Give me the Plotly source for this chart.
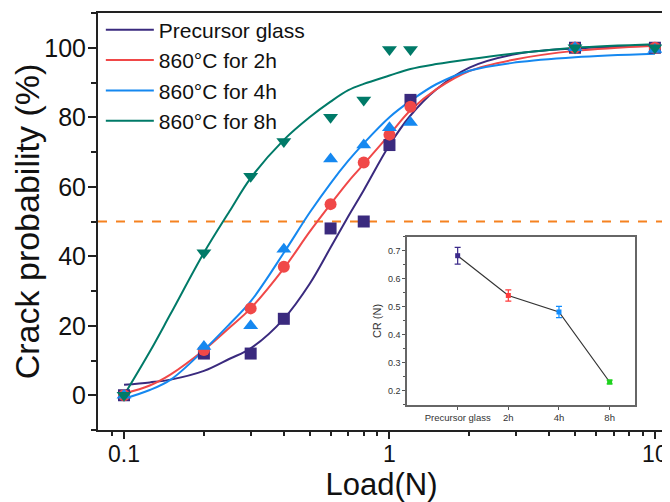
import plotly.graph_objects as go

# ---------------- data ----------------
loads = [0.1, 0.2, 0.3, 0.4, 0.6, 0.8, 1.0, 1.2, 5, 10]
precursor = [0, 12, 12, 22, 48, 50, 72, 85, 100, 100]
h2 = [0, 13, 25, 37, 55, 67, 75, 83, 100, 100]
h4 = [0, 14, 20, 42, 68, 72, 77, 78.5, 100, 99.5]
h8 = [0, 41, 63, 73, 80, 85, 99.5, 99.5, 100, 100]

# fitted curves
fit_x = [0.1, 0.125, 0.15, 0.2, 0.25, 0.3, 0.4, 0.5, 0.6, 0.7, 0.8, 1.0, 1.2, 1.5, 2, 3, 5, 10]
precursor_fit = [3, 3.7, 4.5, 7, 10.5, 13.5, 22, 32, 42.5, 51.5, 59, 72, 80.5, 88, 94.3, 98.2, 99.8, 100.6]
h2_fit = [0.5, 2.8, 6, 13, 19.5, 25, 36.5, 47, 55, 61.5, 66.5, 75, 82, 88, 93.3, 96.7, 99.1, 100.6]
h4_fit = [-1, 1.5, 4.5, 13, 20.5, 27, 41, 52.5, 61, 67.5, 72.5, 80, 84.7, 89.5, 93.4, 95.8, 97.3, 98.3]
h8_fit = [0, 12.5, 23.5, 41, 53, 62.5, 73.5, 80, 84.5, 87.8, 89.6, 92, 93.9, 95.3, 96.7, 98.4, 100, 101]

threshold = 50

series_names = ["Precursor glass", "860°C for 2h", "860°C for 4h", "860°C for 8h"]

# inset data
cr_categories = ["Precursor glass", "2h", "4h", "8h"]
cr_values = [0.683, 0.541, 0.482, 0.232]
cr_errors = [0.03, 0.02, 0.02, 0.007]

# ---------------- styles ----------------
colors = ["#3a2a7e", "#f04848", "#1588f0", "#007a68"]
symbols = ["square", "circle", "triangle-up", "triangle-down"]
sizes = [12, 12, 13, 13]
inset_colors = ["#3b2a8a", "#ff3b3b", "#0f8cff", "#1ed21e"]
FONT = "Liberation Sans, Arial, sans-serif"

fig = go.Figure()

point_sets = [precursor, h2, h4, h8]
fit_sets = [precursor_fit, h2_fit, h4_fit, h8_fit]

for name, col, fit in zip(series_names, colors, fit_sets):
    fig.add_trace(go.Scatter(
        x=fit_x, y=fit, mode="lines", name=name,
        line=dict(color=col, width=2, shape="spline", smoothing=1.0),
        legendgroup=name, showlegend=True,
    ))
for name, col, sym, sz, pts in zip(series_names, colors, symbols, sizes, point_sets):
    fig.add_trace(go.Scatter(
        x=loads, y=pts, mode="markers", name=name,
        marker=dict(symbol=sym, color=col, size=sz, line=dict(width=0)),
        legendgroup=name, showlegend=False,
    ))

# inset
fig.add_trace(go.Scatter(
    x=cr_categories, y=cr_values, mode="lines",
    line=dict(color="#333333", width=1.2),
    xaxis="x2", yaxis="y2", showlegend=False,
))
for cat, val, err, col in zip(cr_categories, cr_values, cr_errors, inset_colors):
    fig.add_trace(go.Scatter(
        x=[cat], y=[val], mode="markers",
        marker=dict(symbol="square", color=col, size=5),
        error_y=dict(type="data", array=[err], color=col, thickness=1.2, width=3),
        xaxis="x2", yaxis="y2", showlegend=False,
    ))

fig.add_shape(type="line", xref="paper", yref="y", x0=0, x1=1, y0=threshold, y1=threshold,
              line=dict(color="#f58220", width=2, dash="dash"), layer="below")

# the page body has an 8px default margin, so the figure is drawn 8px in from the
# window's top-left corner; size and margins compensate for that.
fig.update_layout(
    width=662, height=494,
    margin=dict(l=90, r=5, t=5, b=72, autoexpand=False),
    paper_bgcolor="white", plot_bgcolor="white",
    font=dict(family=FONT, color="#111111"),
    showlegend=True,
    legend=dict(x=0.005, y=1.008, xanchor="left", yanchor="top",
                bgcolor="rgba(0,0,0,0)", font=dict(size=21, family=FONT, color="#111111"),
                tracegroupgap=0, itemwidth=48),
    xaxis=dict(
        type="log", range=[-1.098, 1.038], automargin=False,
        tickvals=[0.1, 1, 10], ticktext=["0.1", "1", "10"],
        ticks="outside", ticklen=7, tickwidth=2, tickcolor="#222",
        ticklabelstandoff=-5,
        minor=dict(ticks="outside", ticklen=4, tickwidth=1.5, tickcolor="#222",
                   tickvals=[0.09, 0.2, 0.3, 0.4, 0.5, 0.6, 0.7, 0.8, 0.9,
                             2, 3, 4, 5, 6, 7, 8, 9], showgrid=False),
        showline=True, linecolor="#222", linewidth=2, mirror=True,
        showgrid=False, zeroline=False,
        tickfont=dict(size=23, family=FONT, color="#111"),
        title=dict(text="Load(N)", font=dict(size=31, family=FONT, color="#111"), standoff=4),
    ),
    yaxis=dict(
        range=[-10, 110], automargin=False,
        tickvals=[0, 20, 40, 60, 80, 100],
        ticks="outside", ticklen=8, tickwidth=2, tickcolor="#222",
        ticklabelstandoff=-3,
        minor=dict(ticks="outside", ticklen=5, tickwidth=1.5, tickcolor="#222", dtick=10, showgrid=False),
        showline=True, linecolor="#222", linewidth=2, mirror=True,
        showgrid=False, zeroline=False,
        tickfont=dict(size=25, family=FONT, color="#111"),
        title=dict(text="Crack probability (%)", font=dict(size=34, family=FONT, color="#111"), standoff=4),
    ),
    xaxis2=dict(
        domain=[0.545, 0.947], anchor="y2", type="category", automargin=False,
        range=[-1, 3.5],
        ticks="outside", ticklen=3, tickwidth=1, tickcolor="#555",
        showline=True, linecolor="#666", linewidth=1.5, mirror=True,
        showgrid=False, zeroline=False,
        tickfont=dict(size=9.5, family=FONT, color="#333"),
    ),
    yaxis2=dict(
        domain=[0.06, 0.463], anchor="x2", automargin=False,
        range=[0.15, 0.75],
        tickvals=[0.2, 0.3, 0.4, 0.5, 0.6, 0.7],
        ticks="outside", ticklen=3, tickwidth=1, tickcolor="#555",
        minor=dict(ticks="outside", ticklen=2, tickwidth=1, tickcolor="#555", dtick=0.05, showgrid=False),
        showline=True, linecolor="#666", linewidth=1.5, mirror=True,
        showgrid=False, zeroline=False,
        tickfont=dict(size=9, family=FONT, color="#333"),
        title=dict(text="CR (N)", font=dict(size=11, family=FONT, color="#333"), standoff=4),
    ),
)

fig.write_html("out.html")
